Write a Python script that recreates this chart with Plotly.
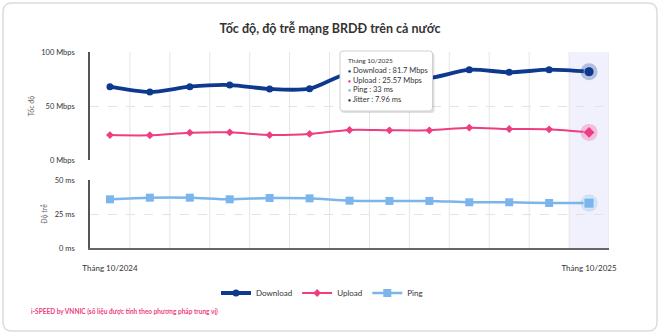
import plotly.graph_objects as go

# Monthly national fixed-broadband metrics (median values)
months = ["Tháng 10/2024", "Tháng 11/2024", "Tháng 12/2024", "Tháng 1/2025",
          "Tháng 2/2025", "Tháng 3/2025", "Tháng 4/2025", "Tháng 5/2025",
          "Tháng 6/2025", "Tháng 7/2025", "Tháng 8/2025", "Tháng 9/2025",
          "Tháng 10/2025"]
download = [67.9, 63.0, 67.9, 69.4, 65.7, 66.0, 80.5, 78.0, 76.0, 83.6, 81.2, 83.6, 81.7]
upload = [23.1, 22.9, 25.3, 25.6, 23.1, 24.1, 27.8, 27.5, 27.5, 29.9, 28.7, 28.4, 25.57]
ping = [35.8, 37.0, 37.0, 35.8, 36.8, 36.5, 34.8, 34.6, 34.6, 33.6, 33.6, 33.1, 33.0]
jitter_last = 7.96

speed_ticks = [0, 50, 100]
speed_labels = ["0 Mbps", "50 Mbps", "100 Mbps"]
latency_ticks = [0, 25, 50]
latency_labels = ["0 ms", "25 ms", "50 ms"]

NAVY = "#0d3a8e"
PINK = "#ee3d80"
SKY = "#7cb5ec"
FONT = "Lato"

W, H = 660, 334
L, R, T, B = 90, 51, 52, 86
PW, PH = W - L - R, H - T - B


def fx(px):
    return (px - L) / PW


def fy(py):
    return (H - B - py) / PH


x = list(range(len(months)))
last = len(months) - 1

fig = go.Figure()

fig.add_trace(go.Scatter(
    x=x, y=download, name="Download", yaxis="y",
    mode="lines+markers", line=dict(color=NAVY, width=3.8, shape="spline", smoothing=0.8),
    marker=dict(symbol="circle", size=7, color=NAVY),
))
fig.add_trace(go.Scatter(
    x=x, y=upload, name="Upload", yaxis="y",
    mode="lines+markers", line=dict(color=PINK, width=2, shape="spline", smoothing=0.8),
    marker=dict(symbol="diamond", size=6, color=PINK),
))
fig.add_trace(go.Scatter(
    x=x, y=ping, name="Ping", yaxis="y2",
    mode="lines+markers", line=dict(color=SKY, width=2.5, shape="spline", smoothing=0.8),
    marker=dict(symbol="square", size=8, color=SKY),
))

# Hovered month: halos and enlarged markers
for vals, ax, col, halo, sym, size in [
    (download, "y", NAVY, "rgba(13,58,142,0.28)", "circle", 10),
    (upload, "y", PINK, "rgba(238,61,128,0.28)", "diamond", 9),
    (ping, "y2", SKY, "rgba(124,181,236,0.30)", "square", 10),
]:
    fig.add_trace(go.Scatter(
        x=[x[last]], y=[vals[last]], yaxis=ax, mode="markers", showlegend=False,
        hoverinfo="skip", marker=dict(symbol="circle", size=17, color=halo),
    ))
    fig.add_trace(go.Scatter(
        x=[x[last]], y=[vals[last]], yaxis=ax, mode="markers", showlegend=False,
        hoverinfo="skip", marker=dict(symbol=sym, size=size, color=col,
                                      line=dict(color="white", width=0.5)),
    ))

shapes = []
# highlighted band of the hovered month
shapes.append(dict(type="rect", xref="x", yref="paper", x0=last - 0.5, x1=last + 0.5,
                   y0=0, y1=1, fillcolor="#f1f1fd", line=dict(width=0), layer="below"))
# vertical grid at category boundaries
for k in range(1, len(months) + 1):
    shapes.append(dict(type="line", xref="x", yref="paper", x0=k - 0.5, x1=k - 0.5,
                       y0=0, y1=1, line=dict(color="#e6e6e6", width=1), layer="below"))


def rounded_path(x0, y0, x1, y1, r):
    rx, ry = r / PW, r / PH
    a, b = fx(x0), fx(x1)
    top, bot = fy(y0), fy(y1)
    return (f"M {a + rx},{top} L {b - rx},{top} Q {b},{top} {b},{top - ry} "
            f"L {b},{bot + ry} Q {b},{bot} {b - rx},{bot} "
            f"L {a + rx},{bot} Q {a},{bot} {a},{bot + ry} "
            f"L {a},{top - ry} Q {a},{top} {a + rx},{top} Z")


# card outline
shapes.append(dict(type="path", xref="paper", yref="paper",
                   path=rounded_path(3, 3, 657, 331, 9),
                   line=dict(color="#dcdcdc", width=1.5), layer="below"))
# tooltip shadow and box
shapes.append(dict(type="path", xref="paper", yref="paper",
                   path=rounded_path(341, 52.5, 434.5, 113, 3),
                   fillcolor="rgba(0,0,0,0.12)", line=dict(width=0), layer="above"))
shapes.append(dict(type="path", xref="paper", yref="paper",
                   path=rounded_path(340, 51, 432.5, 111, 3),
                   fillcolor="white", line=dict(color="#cfcfcf", width=1), layer="above"))

dot = "<span style='font-size:5px;color:{c}'>●</span>"
tooltip = (
    f"<span style='font-size:6.5px'>{months[last]}</span><br>"
    f"{dot.format(c=NAVY)} Download : {download[last]} Mbps<br>"
    f"{dot.format(c=PINK)} Upload : {upload[last]} Mbps<br>"
    f"{dot.format(c=SKY)} Ping : {ping[last]:g} ms<br>"
    f"{dot.format(c='#333333')} Jitter : {jitter_last} ms"
)

annotations = [
    dict(text=tooltip, xref="paper", yref="paper", x=fx(346), y=fy(55),
         xanchor="left", yanchor="top", align="left", showarrow=False,
         font=dict(family=FONT, size=7.5, color="#333333")),
    dict(text="i-SPEED by VNNIC (số liệu được tính theo phương pháp trung vị)",
         xref="paper", yref="paper", x=fx(29), y=fy(311), xanchor="left",
         yanchor="middle", showarrow=False,
         font=dict(family=FONT, size=6.5, color=PINK, weight="bold")),
]

fig.update_layout(
    width=W, height=H,
    margin=dict(l=L, r=R, t=T, b=B),
    paper_bgcolor="white", plot_bgcolor="rgba(0,0,0,0)",
    font=dict(family=FONT, size=8, color="#333333"),
    title=dict(text="<b>Tốc độ, độ trễ mạng BRDĐ trên cả nước</b>",
               x=0.5, xanchor="center", y=1 - 29 / H, yanchor="middle",
               font=dict(family=FONT, size=12.5, color="#333333")),
    xaxis=dict(range=[-0.5, last + 0.5], anchor="y2", tickvals=[0, last],
               ticktext=[months[0], months[last]], showgrid=False, zeroline=False,
               showline=True, linecolor="#666666", linewidth=1.5, ticks="",
               ticklabelstandoff=12, tickfont=dict(size=8, color="#333333")),
    yaxis=dict(domain=[fy(160), 1], range=[0, 100], tickvals=speed_ticks,
               ticktext=speed_labels, showgrid=True, gridcolor="#e3e3e3",
               griddash="dash", zeroline=False, showline=True, linecolor="#555555",
               linewidth=1.5, ticks="", ticklabelstandoff=12,
               tickfont=dict(size=7.5, color="#333333"),
               title=dict(text="Tốc độ", standoff=6,
                          font=dict(size=7, color="#666666"))),
    yaxis2=dict(domain=[0, fy(180)], range=[0, 50], tickvals=latency_ticks,
                ticktext=latency_labels, showgrid=True, gridcolor="#e3e3e3",
                griddash="dash", zeroline=False, showline=True, linecolor="#555555",
                linewidth=1.5, ticks="", ticklabelstandoff=12, anchor="x",
                tickfont=dict(size=7.5, color="#333333"),
                title=dict(text="Độ trễ", standoff=6,
                           font=dict(size=7, color="#666666"))),
    legend=dict(orientation="h", x=fx(322), xanchor="center", y=fy(293), yanchor="middle",
                itemwidth=30, font=dict(size=8, color="#333333"),
                bgcolor="rgba(0,0,0,0)"),
    shapes=shapes,
    annotations=annotations,
    showlegend=True,
    hovermode=False,
)

fig.write_html("out.html")
